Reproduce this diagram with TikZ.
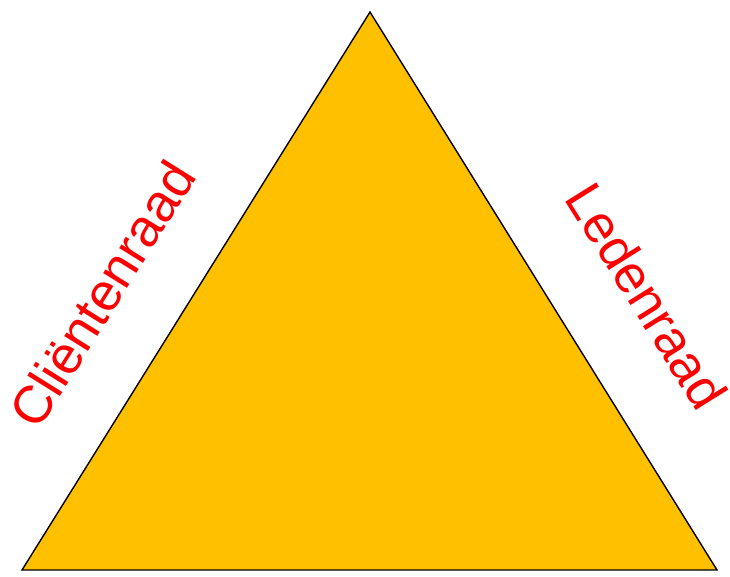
\documentclass[tikz,border=0pt]{standalone}
\usepackage{fontspec}
\setmainfont{Liberation Sans}
\definecolor{tri}{HTML}{FFC000}
\definecolor{lbl}{HTML}{FF0000}
\begin{document}
\begin{tikzpicture}[x=1pt,y=-1pt,
  lab/.style={text=lbl,inner sep=0pt,font=\fontsize{53}{63}\selectfont}]
\useasboundingbox (0,0) rectangle (730,576);
\coordinate (top) at (370,12);
\coordinate (bl) at (22,570);
\coordinate (br) at (717,570);
\filldraw[fill=tri,draw=black,line width=1.4pt,line join=miter] (top) -- (bl) -- (br) -- cycle;
\node[lab,rotate=58] (left) at (102,294) {Cliëntenraad};
\node[lab,rotate=-58] (right) at (647,296) {Ledenraad};
\end{tikzpicture}
\end{document}
